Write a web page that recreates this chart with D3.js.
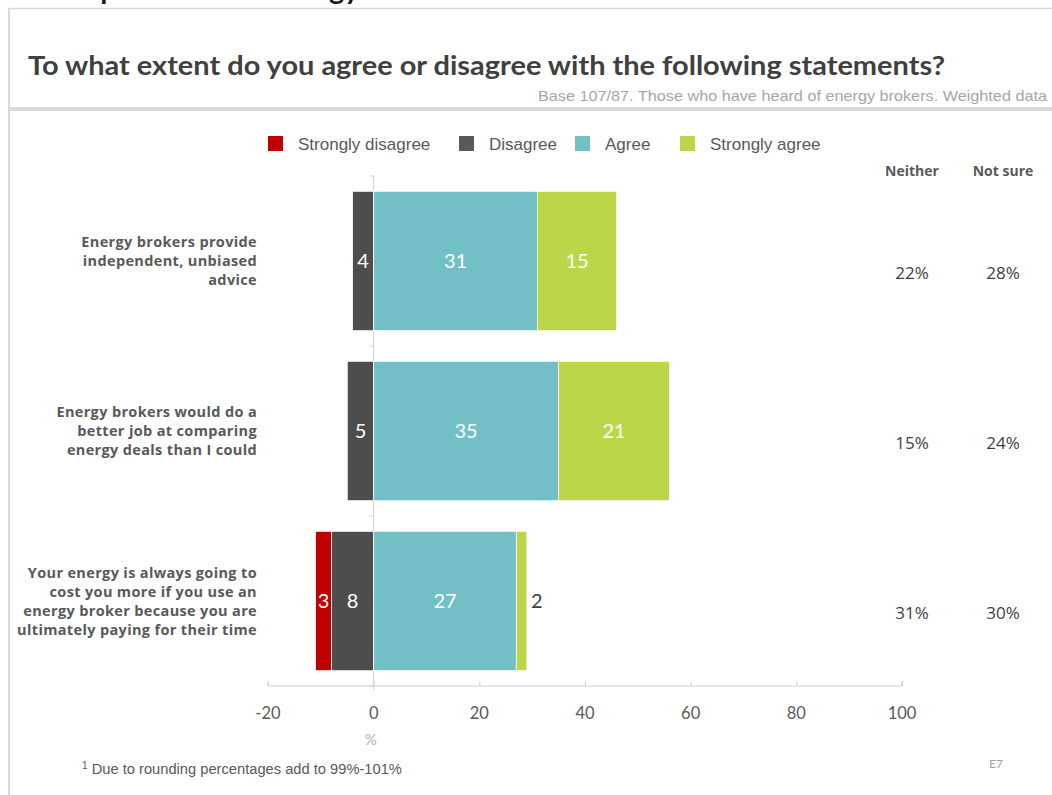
<!DOCTYPE html>
<html>
<head>
<meta charset="utf-8">
<script src="https://cdn.jsdelivr.net/npm/d3@7"></script>
<style>
  html, body { margin: 0; padding: 0; background: #fff; }
  svg { display: block; }
</style>
</head>
<body>
<svg id="chart" width="1052" height="795"></svg>
<script>
// Statements (one row each), survey responses in percent
const statements = [
  ["Energy brokers provide", "independent, unbiased", "advice"],
  ["Energy brokers would do a", "better job at comparing", "energy deals than I could"],
  ["Your energy is always going to", "cost you more if you use an", "energy broker because you are", "ultimately paying for their time"]
];
const stronglyDisagree = [0, 0, 3];
const disagree = [4, 5, 8];
const agree = [31, 35, 27];
const stronglyAgree = [15, 21, 2];
const neither = [22, 15, 31];
const notSure = [28, 24, 30];

const seriesNames = ["Strongly disagree", "Disagree", "Agree", "Strongly agree"];
const seriesColors = ["#C00000", "#4D4D4D", "#72BFC6", "#BCD64A"];
const legendColors = ["#C00000", "#595959", "#72BFC6", "#BCD64A"];
const xTicks = [-20, 0, 20, 40, 60, 80, 100];

const svg = d3.select("#chart");

// Frame of the slide panel
svg.append("line").attr("x1", 9).attr("x2", 1052).attr("y1", 8.5).attr("y2", 8.5)
  .attr("stroke", "#d9d9d9").attr("stroke-width", 1.5);
svg.append("line").attr("x1", 9).attr("x2", 9).attr("y1", 8).attr("y2", 795)
  .attr("stroke", "#d9d9d9").attr("stroke-width", 2);
svg.append("rect").attr("x", 10).attr("y", 107).attr("width", 1042).attr("height", 4)
  .attr("fill", "#d9d9d9");

// Heading running off the top edge
svg.append("text").attr("x", 28).attr("y", -1)
  .attr("font-family", "Lato, sans-serif").attr("font-weight", 700)
  .attr("font-size", 29).attr("fill", "#1a1a1a")
  .text("Perceptions of the energy brokers");

// Title and base note
svg.append("text").attr("x", 28).attr("y", 75)
  .attr("font-family", "Lato, sans-serif").attr("font-weight", 700)
  .attr("font-size", 26).attr("fill", "#404040")
  .attr("textLength", 917).attr("lengthAdjust", "spacingAndGlyphs")
  .text("To what extent do you agree or disagree with the following statements?");
svg.append("text").attr("x", 1047).attr("y", 101).attr("text-anchor", "end")
  .attr("font-family", "'Liberation Sans', Arial, sans-serif")
  .attr("font-size", 14.5).attr("fill", "#a6a6a6")
  .attr("textLength", 509).attr("lengthAdjust", "spacingAndGlyphs")
  .text("Base 107/87. Those who have heard of energy brokers. Weighted data");

// Scales
const x = d3.scaleLinear().domain([-20, 100]).range([268, 902]);
const y = d3.scaleBand().domain(d3.range(statements.length))
  .range([176, 686]).paddingInner(0.18).paddingOuter(0.09);

// Segments per row: negatives stack leftward from zero, positives rightward
const rows = d3.range(statements.length).map(i => {
  const segs = [];
  let neg = 0;
  [[1, disagree[i]], [0, stronglyDisagree[i]]].forEach(([k, v]) => {
    segs.push({ row: i, k, v, x0: neg - v, x1: neg });
    neg -= v;
  });
  let pos = 0;
  [[2, agree[i]], [3, stronglyAgree[i]]].forEach(([k, v]) => {
    segs.push({ row: i, k, v, x0: pos, x1: pos + v });
    pos += v;
  });
  return segs;
}).flat().filter(d => d.v > 0);

// x axis
const axisG = svg.append("g").attr("transform", "translate(0,686)");
axisG.call(d3.axisTop(x).tickValues(xTicks).tickSize(5).tickFormat(""));
axisG.selectAll("path, line").attr("stroke", "#d0d0d0");
axisG.select(".domain").attr("d", `M${x(-20)},-5V0H${x(100)}V-5`);
svg.append("g").selectAll("text").data(xTicks).join("text")
  .attr("x", d => x(d)).attr("y", 719).attr("text-anchor", "middle")
  .attr("font-family", "Lato, sans-serif").attr("font-size", 16.5).attr("fill", "#595959")
  .text(d => d);
svg.append("text").attr("x", x(0) - 3).attr("y", 745).attr("text-anchor", "middle")
  .attr("font-family", "Lato, sans-serif").attr("font-size", 15).attr("fill", "#b0b0b0")
  .text("%");

// Zero line with category tick marks
svg.append("line").attr("x1", x(0)).attr("x2", x(0)).attr("y1", 176).attr("y2", 690)
  .attr("stroke", "#d0d0d0").attr("stroke-width", 1);
svg.append("g").selectAll("line")
  .data(d3.range(statements.length).map(i => y(i) - y.step() * y.paddingInner() / 2).concat([686]))
  .join("line")
  .attr("x1", x(0) - 4).attr("x2", x(0)).attr("y1", d => d).attr("y2", d => d)
  .attr("stroke", "#d0d0d0");

// Bars
svg.append("g").selectAll("rect").data(rows).join("rect")
  .attr("x", d => x(d.x0)).attr("width", d => x(d.x1) - x(d.x0))
  .attr("y", d => y(d.row)).attr("height", y.bandwidth())
  .attr("fill", d => seriesColors[d.k])
  .attr("stroke", "#fff").attr("stroke-width", 0.8);

// Value labels (narrow segments get theirs just outside)
svg.append("g").selectAll("text").data(rows).join("text")
  .each(function (d) {
    const w = x(d.x1) - x(d.x0);
    const outside = w < 14;
    d3.select(this)
      .attr("x", outside ? x(d.x1) + 4 : (x(d.x0) + x(d.x1)) / 2)
      .attr("text-anchor", outside ? "start" : "middle")
      .attr("fill", outside ? "#404040" : "#fff");
  })
  .attr("y", d => y(d.row) + y.bandwidth() / 2 + 7)
  .attr("font-family", "Lato, sans-serif").attr("font-size", 20)
  .text(d => d.v);

// Statement labels
const catG = svg.append("g");
statements.forEach((lines, i) => {
  const cy = y(i) + y.bandwidth() / 2;
  const lh = 19;
  const top = cy - (lines.length - 1) * lh / 2 + 5;
  catG.append("text").attr("text-anchor", "end")
    .attr("font-family", "'Open Sans', sans-serif").attr("font-weight", 700)
    .attr("font-size", 14.5).attr("letter-spacing", 0.35).attr("fill", "#595959")
    .selectAll("tspan").data(lines).join("tspan")
    .attr("x", 257).attr("y", (d, j) => top + j * lh)
    .text(d => d);
});

// Neither / Not sure columns
const cols = [{ name: "Neither", cx: 912, vals: neither }, { name: "Not sure", cx: 1003, vals: notSure }];
cols.forEach(c => {
  svg.append("text").attr("x", c.cx).attr("y", 176).attr("text-anchor", "middle")
    .attr("font-family", "'Open Sans', sans-serif").attr("font-weight", 700)
    .attr("font-size", 14).attr("fill", "#595959").text(c.name);
  svg.append("g").selectAll("text").data(c.vals).join("text")
    .attr("x", c.cx).attr("y", (d, i) => y(i) + y.bandwidth() / 2 + 18)
    .attr("text-anchor", "middle")
    .attr("font-family", "'Open Sans', sans-serif").attr("font-size", 17)
    .attr("fill", "#404040").text(d => d + "%");
});

// Legend
const legendX = [268, 459, 575, 680];
const lg = svg.append("g").selectAll("g").data(seriesNames).join("g")
  .attr("transform", (d, i) => `translate(${legendX[i]},136)`);
lg.append("rect").attr("width", 15).attr("height", 15)
  .attr("fill", (d, i) => legendColors[i]);
lg.append("text").attr("x", 30).attr("y", 14)
  .attr("font-family", "'Liberation Sans', Arial, sans-serif").attr("font-size", 17)
  .attr("fill", "#595959").text(d => d);

// Footnote and code
const fn = svg.append("text").attr("x", 82).attr("y", 774)
  .attr("font-family", "'Liberation Sans', Arial, sans-serif").attr("font-size", 14.7)
  .attr("fill", "#595959");
fn.append("tspan").attr("font-size", 10).attr("dy", -5).text("1");
fn.append("tspan").attr("dy", 5).text(" Due to rounding percentages add to 99%-101%");
svg.append("text").attr("x", 996).attr("y", 768).attr("text-anchor", "middle")
  .attr("font-family", "Lato, sans-serif").attr("font-size", 12)
  .attr("fill", "#a0a0a0").text("E7");
</script>
</body>
</html>
